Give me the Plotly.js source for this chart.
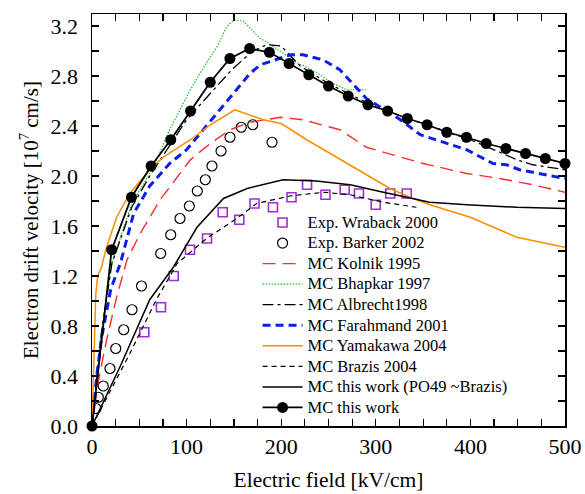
<!DOCTYPE html>
<html>
<head>
<meta charset="utf-8">
<script src="https://cdn.plot.ly/plotly-3.0.1.min.js"></script>
<style>html,body{margin:0;padding:0;background:#fff;}#chart{width:585px;height:494px;}</style>
</head>
<body>
<div id="chart"></div>
<script>
// Exp. Wraback 2000 (squares)
const wrabackX = [55.3, 72.9, 86.4, 103.6, 121.6, 138.2, 155.7, 171.8, 191.3, 210.9, 227.3, 246.8, 267.1, 282.2, 299.9, 315.3, 332.7];
const wrabackY = [0.75, 0.95, 1.20, 1.41, 1.50, 1.71, 1.65, 1.78, 1.75, 1.83, 1.93, 1.85, 1.89, 1.86, 1.77, 1.86, 1.86];
// Exp. Barker 2002 (open circles)
const barkerX = [4.2, 6.7, 11.9, 19.0, 25.1, 33.5, 42.3, 52.3, 72.6, 83.2, 93.0, 102.9, 111.3, 119.8, 126.8, 136.4, 145.9, 157.8, 169.9, 190.3];
const barkerY = [0.14, 0.23, 0.32, 0.46, 0.62, 0.77, 0.93, 1.12, 1.38, 1.53, 1.66, 1.76, 1.88, 1.97, 2.08, 2.20, 2.31, 2.39, 2.41, 2.27];
// MC Kolnik 1995
const kolnikX = [0, 7, 15.5, 26, 37, 51, 72, 90, 104, 125, 146, 167, 199, 223, 262, 290, 350, 396, 431, 466, 500];
const kolnikY = [0, 0.37, 0.69, 1.03, 1.33, 1.54, 1.81, 1.99, 2.13, 2.26, 2.37, 2.43, 2.47, 2.45, 2.37, 2.23, 2.10, 2.02, 1.98, 1.93, 1.87];
// MC Bhapkar 1997
const bhapkarX = [0, 10, 21, 42, 65, 82, 104, 118, 132, 142, 150, 160, 170, 178, 185, 202, 216, 237, 255, 269, 290];
const bhapkarY = [0, 0.75, 1.30, 1.78, 2.07, 2.37, 2.69, 2.87, 3.03, 3.19, 3.25, 3.24, 3.16, 3.10, 3.07, 2.98, 2.91, 2.83, 2.74, 2.69, 2.69];
// MC Albrecht 1998
const albrechtX = [0, 10, 21, 42, 61, 80, 100, 125, 149, 170, 185, 200, 220, 250, 300, 350, 400, 431, 449, 466, 500];
const albrechtY = [0, 0.75, 1.30, 1.75, 2.00, 2.22, 2.45, 2.66, 2.86, 3.00, 3.05, 3.04, 2.88, 2.74, 2.55, 2.42, 2.29, 2.19, 2.13, 2.09, 2.05];
// MC Farahmand 2001
const farahmandX = [0, 5, 10, 20, 30, 44, 61, 82, 100, 111, 128, 149, 167, 178, 195, 210, 223, 244, 262, 290, 326, 347, 396, 424, 438, 452, 466, 500];
const farahmandY = [0, 0.40, 0.70, 1.10, 1.30, 1.70, 1.92, 2.10, 2.21, 2.31, 2.47, 2.66, 2.82, 2.89, 2.93, 2.97, 2.97, 2.93, 2.85, 2.62, 2.45, 2.33, 2.21, 2.10, 2.09, 2.05, 2.03, 1.98];
// MC Yamakawa 2004
const yamakawaX = [0, 2, 4, 6, 10, 15, 26, 40, 61, 75, 104, 125, 151, 181, 200, 227, 252, 290, 315, 333, 357, 400, 449, 500];
const yamakawaY = [0, 0.60, 1.05, 1.20, 1.27, 1.42, 1.67, 1.86, 2.05, 2.15, 2.29, 2.41, 2.53, 2.45, 2.42, 2.29, 2.18, 2.01, 1.90, 1.84, 1.77, 1.67, 1.51, 1.43];
// MC Brazis 2004
const brazisX = [0, 40, 68, 90, 121, 153, 174, 209, 245, 273, 308, 343];
const brazisY = [0, 0.58, 1.01, 1.30, 1.50, 1.66, 1.78, 1.84, 1.87, 1.85, 1.79, 1.75];
// MC this work (PO49 ~Brazis)
const po49X = [0, 30, 61, 86, 111, 139, 164, 202, 237, 273, 308, 333, 357, 396, 449, 500];
const po49Y = [0, 0.48, 1.01, 1.27, 1.59, 1.82, 1.90, 1.97, 1.96, 1.93, 1.87, 1.83, 1.79, 1.77, 1.75, 1.74];
// MC this work (filled circles)
const thisWorkX = [0, 20.8, 41.7, 62.5, 83.3, 104.2, 125, 145.8, 166.7, 187.5, 208.3, 229.2, 250, 270.8, 291.7, 312.5, 333.3, 354.2, 375, 395.8, 416.7, 437.5, 458.3, 479.2, 500];
const thisWorkY = [0, 1.41, 1.83, 2.08, 2.29, 2.52, 2.75, 2.94, 3.02, 2.99, 2.90, 2.81, 2.72, 2.64, 2.57, 2.52, 2.46, 2.41, 2.35, 2.31, 2.26, 2.22, 2.18, 2.14, 2.10];

const seriesNames = ['Exp. Wraback 2000', 'Exp. Barker 2002', 'MC Kolnik 1995', 'MC Bhapkar 1997', 'MC Albrecht1998',
  'MC Farahmand 2001', 'MC Yamakawa 2004', 'MC Brazis 2004', 'MC this work (PO49 ~Brazis)', 'MC this work'];

const xTickVals = [0, 100, 200, 300, 400, 500];
const yTickVals = [0, 0.4, 0.8, 1.2, 1.6, 2.0, 2.4, 2.8, 3.2];

const FONT = 'Times New Roman, Liberation Serif, Tinos, DejaVu Serif, serif';
// legend label: text drawn a bit larger than the legend row font, for compact rows
const lg = s => '<span style="font-size:16.5px">' + s + '</span>';

const traces = [
  {x: wrabackX, y: wrabackY, name: lg(seriesNames[0]), mode: 'markers',
   marker: {symbol: 'square-open', size: 9, color: '#9b30d0', line: {width: 1.6}}},
  {x: barkerX, y: barkerY, name: lg(seriesNames[1]), mode: 'markers',
   marker: {symbol: 'circle-open', size: 10, color: '#000', line: {width: 1.2}}},
  {x: kolnikX, y: kolnikY, name: lg(seriesNames[2]), mode: 'lines',
   line: {color: '#ff2a2a', width: 1.4, dash: '13px,7px'}},
  {x: bhapkarX, y: bhapkarY, name: lg(seriesNames[3]), mode: 'lines',
   line: {color: '#22bb22', width: 1.2, dash: '1.5px,1.5px'}},
  {x: albrechtX, y: albrechtY, name: lg(seriesNames[4]), mode: 'lines',
   line: {color: '#000', width: 1.3, dash: '11px,4px,3px,4px'}},
  {x: farahmandX, y: farahmandY, name: lg(seriesNames[5]), mode: 'lines',
   line: {color: '#0a1ef0', width: 3, dash: '8px,5px'}},
  {x: yamakawaX, y: yamakawaY, name: lg(seriesNames[6]), mode: 'lines',
   line: {color: '#ff8c00', width: 1.5}},
  {x: brazisX, y: brazisY, name: lg(seriesNames[7]), mode: 'lines',
   line: {color: '#000', width: 1.2, dash: '5px,4px'}},
  {x: po49X, y: po49Y, name: lg(seriesNames[8]), mode: 'lines',
   line: {color: '#000', width: 1.5}},
  {x: thisWorkX, y: thisWorkY, name: lg(seriesNames[9]), mode: 'lines+markers', cliponaxis: false,
   line: {color: '#000', width: 1.8}, marker: {symbol: 'circle', size: 11, color: '#000'}}
];

const axisCommon = {
  showline: true, linecolor: '#000', linewidth: 1.5, mirror: 'allticks',
  ticks: 'inside', ticklen: 7, tickwidth: 1.2, tickcolor: '#000',
  showgrid: false, zeroline: false,
  tickfont: {family: FONT, size: 22, color: '#000'}
};

const layout = {
  width: 585, height: 494,
  margin: {l: 92, r: 20, t: 14, b: 68},
  paper_bgcolor: '#fff', plot_bgcolor: '#fff',
  font: {family: FONT, color: '#000'},
  showlegend: true,
  legend: {x: 0.35, y: 0.531, xanchor: 'left', yanchor: 'top', bgcolor: 'rgba(0,0,0,0)',
           font: {family: FONT, size: 13.5, color: '#000'}, itemwidth: 40, tracegroupgap: 0},
  xaxis: Object.assign({}, axisCommon, {
    range: [0, 500], tickvals: xTickVals, ticktext: xTickVals.map(String),
    minor: {dtick: 25, ticks: 'inside', ticklen: 7, tickwidth: 1.2, tickcolor: '#000'},
    title: {text: 'Electric field [kV/cm]', font: {family: FONT, size: 21.5, color: '#000'}, standoff: 14}
  }),
  yaxis: Object.assign({}, axisCommon, {
    range: [0, 3.296], tickvals: yTickVals, ticktext: yTickVals.map(v => v.toFixed(1)),
    minor: {dtick: 0.2, ticks: 'inside', ticklen: 7, tickwidth: 1.2, tickcolor: '#000'},
    ticklabelstandoff: 8,
    title: {text: 'Electron drift velocity [10<sup>7</sup> cm/s]', font: {family: FONT, size: 21, color: '#000'}, standoff: 6}
  })
};

Plotly.newPlot('chart', traces, layout, {displayModeBar: false, staticPlot: true});
</script>
</body>
</html>
